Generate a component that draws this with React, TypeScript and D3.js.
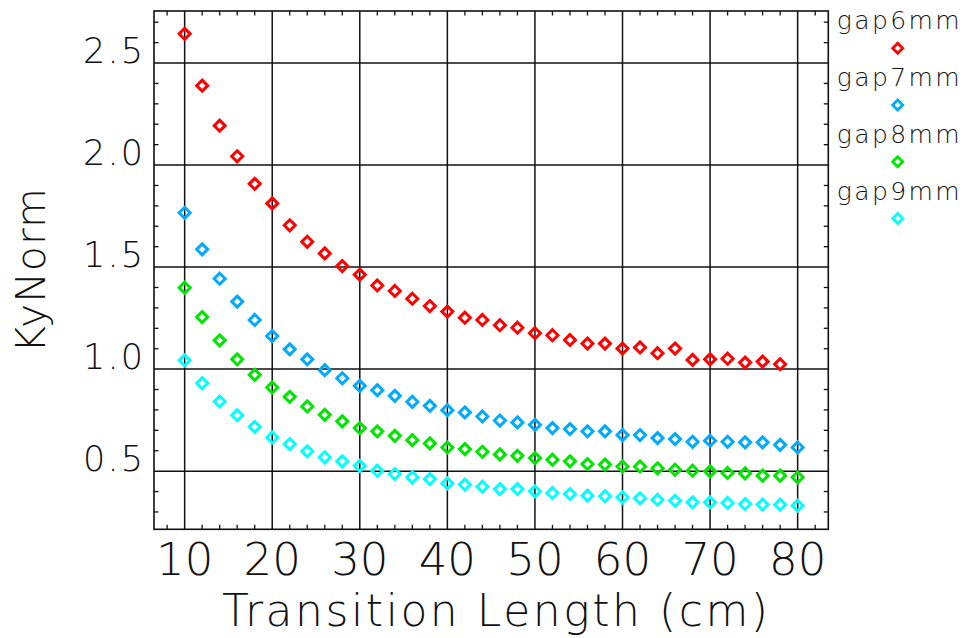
import React from "react";
import * as d3 from "d3";

// Transition length (cm) sampled every 2 cm
const lengths = [10, 12, 14, 16, 18, 20, 22, 24, 26, 28, 30, 32, 34, 36, 38, 40, 42, 44, 46, 48, 50, 52, 54, 56, 58, 60, 62, 64, 66, 68, 70, 72, 74, 76, 78, 80];

const gap6mm = [2.643, 2.389, 2.193, 2.043, 1.908, 1.812, 1.705, 1.624, 1.567, 1.505, 1.463, 1.410, 1.383, 1.345, 1.309, 1.282, 1.252, 1.241, 1.215, 1.203, 1.176, 1.166, 1.143, 1.125, 1.125, 1.101, 1.106, 1.078, 1.101, 1.045, 1.048, 1.051, 1.032, 1.037, 1.024];
const gap7mm = [1.766, 1.587, 1.443, 1.331, 1.241, 1.162, 1.097, 1.048, 0.995, 0.955, 0.918, 0.897, 0.869, 0.840, 0.820, 0.799, 0.788, 0.768, 0.748, 0.739, 0.727, 0.711, 0.706, 0.695, 0.695, 0.677, 0.677, 0.662, 0.657, 0.644, 0.649, 0.644, 0.641, 0.641, 0.629, 0.616];
const gap8mm = [1.399, 1.255, 1.141, 1.048, 0.972, 0.910, 0.864, 0.817, 0.776, 0.744, 0.711, 0.695, 0.673, 0.652, 0.636, 0.616, 0.608, 0.595, 0.582, 0.575, 0.564, 0.556, 0.548, 0.535, 0.532, 0.523, 0.523, 0.514, 0.507, 0.502, 0.499, 0.491, 0.489, 0.478, 0.478, 0.470];
const gap9mm = [1.043, 0.931, 0.841, 0.774, 0.717, 0.665, 0.633, 0.597, 0.568, 0.548, 0.526, 0.502, 0.486, 0.470, 0.461, 0.440, 0.434, 0.424, 0.412, 0.412, 0.401, 0.393, 0.388, 0.380, 0.377, 0.372, 0.367, 0.360, 0.355, 0.347, 0.347, 0.344, 0.339, 0.336, 0.336, 0.331];

const seriesNames = ["gap6mm", "gap7mm", "gap8mm", "gap9mm"];
const seriesValues = [gap6mm, gap7mm, gap8mm, gap9mm];
const seriesColors = ["#ff0000", "#00aaff", "#00e600", "#00ffff"];

const xTicks = [10, 20, 30, 40, 50, 60, 70, 80];
const yTicks = [0.5, 1.0, 1.5, 2.0, 2.5];
const yTickLabels = ["0.5", "1.0", "1.5", "2.0", "2.5"];
const xMinor = [8, 12, 14, 16, 18, 22, 24, 26, 28, 32, 34, 36, 38, 42, 44, 46, 48, 52, 54, 56, 58, 62, 64, 66, 68, 72, 74, 76, 78, 82];
const yMinor = [0.3, 0.4, 0.6, 0.7, 0.8, 0.9, 1.1, 1.2, 1.3, 1.4, 1.6, 1.7, 1.8, 1.9, 2.1, 2.2, 2.3, 2.4, 2.6, 2.7];

const W = 963;
const H = 638;
const left = 154;
const right = 828.3;
const top = 11;
const bottom = 529.3;

const FONT = "'DejaVu Sans', sans-serif";
const INK = "#111";

function diamond(cx: number, cy: number, r: number) {
  return `M${cx},${cy - r}L${cx + r},${cy}L${cx},${cy + r}L${cx - r},${cy}Z`;
}

export default function App() {
  const x = d3.scaleLinear().domain([6.5, 83.5]).range([left, right]);
  const y = d3.scaleLinear().domain([0.215, 2.755]).range([bottom, top]);
  const tickLen = 4.5;

  return (
    <svg
      width={W}
      height={H}
      style={{ position: "absolute", left: 0, top: 0, background: "#fff" }}
    >
      {/* major grid */}
      <g stroke={INK} strokeWidth={1.5}>
        {xTicks.map((t) => (
          <line key={"gx" + t} x1={x(t)} x2={x(t)} y1={top} y2={bottom} />
        ))}
        {yTicks.map((t) => (
          <line key={"gy" + t} x1={left} x2={right} y1={y(t)} y2={y(t)} />
        ))}
      </g>

      {/* minor ticks on all four sides */}
      <g stroke={INK} strokeWidth={1.3}>
        {xMinor.map((t) => (
          <g key={"mx" + t}>
            <line x1={x(t)} x2={x(t)} y1={top} y2={top + tickLen} />
            <line x1={x(t)} x2={x(t)} y1={bottom} y2={bottom - tickLen} />
          </g>
        ))}
        {yMinor.map((t) => (
          <g key={"my" + t}>
            <line x1={left} x2={left + tickLen} y1={y(t)} y2={y(t)} />
            <line x1={right} x2={right - tickLen} y1={y(t)} y2={y(t)} />
          </g>
        ))}
      </g>

      {/* frame */}
      <rect
        x={left}
        y={top}
        width={right - left}
        height={bottom - top}
        fill="none"
        stroke={INK}
        strokeWidth={1.6}
      />

      {/* data markers */}
      {seriesValues.map((vals, si) => (
        <g key={seriesNames[si]} fill="none" stroke={seriesColors[si]} strokeWidth={3}>
          {vals.map((v, i) => (
            <path key={i} d={diamond(x(lengths[i]), y(v), 5.5)} />
          ))}
        </g>
      ))}

      {/* x tick labels */}
      <g fontFamily={FONT} fontWeight={200} fontSize={45} fill={INK} textAnchor="middle">
        {xTicks.map((t) => (
          <text key={"xl" + t} x={x(t)} y={575}>
            {String(t)}
          </text>
        ))}
      </g>

      {/* y tick labels */}
      <g fontFamily={FONT} fontWeight={200} fontSize={35} fill={INK} textAnchor="end">
        {yTicks.map((t, i) => (
          <text key={"yl" + t} x={143} y={y(t)} textLength={60} lengthAdjust="spacing">
            {yTickLabels[i]}
          </text>
        ))}
      </g>

      {/* axis titles */}
      <text
        x={(222 + 768) / 2}
        y={626}
        fontFamily={FONT}
        fontWeight={200}
        fontSize={44}
        fill={INK}
        textAnchor="middle"
        textLength={546}
        lengthAdjust="spacing"
      >
        Transition Length (cm)
      </text>
      <text
        transform={`translate(45,${(188 + 353) / 2}) rotate(-90)`}
        fontFamily={FONT}
        fontWeight={200}
        fontSize={41}
        fill={INK}
        textAnchor="middle"
        textLength={165}
        lengthAdjust="spacing"
      >
        KyNorm
      </text>

      {/* legend */}
      {seriesNames.map((name, i) => (
        <g key={"lg" + name}>
          <text
            x={836.7}
            y={29 + i * 56.9}
            fontFamily={FONT}
            fontWeight={200}
            fontSize={25}
            fill={INK}
            textLength={123}
            lengthAdjust="spacing"
          >
            {name}
          </text>
          <path
            d={diamond(897.7, 48.3 + i * 56.7, 5)}
            fill="none"
            stroke={seriesColors[i]}
            strokeWidth={2.8}
          />
        </g>
      ))}
    </svg>
  );
}
